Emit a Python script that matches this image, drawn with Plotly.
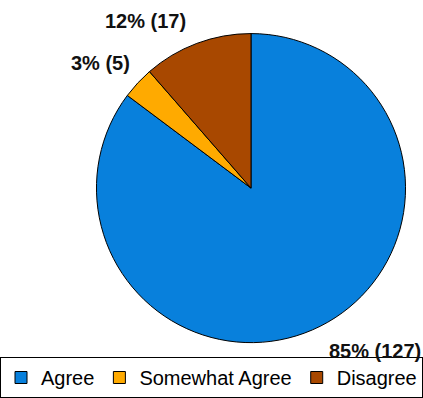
import plotly.graph_objects as go

categories = ["Agree", "Somewhat Agree", "Disagree"]
counts = [127, 5, 17]
percents = [85, 3, 12]
colors = ["#0880DC", "#FFAA00", "#A84800"]

W, H = 423, 398
# label anchor positions (pixels, from top-left)
label_pos = [(375, 355), (100, 64), (145, 21)]

fig = go.Figure()
fig.add_trace(go.Pie(
    labels=categories,
    values=counts,
    sort=False,
    direction="clockwise",
    rotation=0,
    marker=dict(colors=colors, line=dict(color="#000000", width=1)),
    textinfo="none",
    hoverinfo="label+value+percent",
    domain=dict(x=[94 / W, 408 / W], y=[1 - 347 / H, 1 - 34 / H]),
))

for cat, n, p, (px, py) in zip(categories, counts, percents, label_pos):
    fig.add_annotation(
        x=px / W, y=1 - py / H, xref="paper", yref="paper",
        text=f"<b>{p}% ({n})</b>", showarrow=False,
        font=dict(family="Liberation Sans, Arial", size=20, color="#111111"),
        xanchor="center", yanchor="middle",
    )

fig.update_layout(
    width=W, height=H,
    margin=dict(l=0, r=0, t=0, b=0),
    paper_bgcolor="white",
    plot_bgcolor="white",
    font=dict(family="Liberation Sans, Arial", size=20, color="#000000"),
    showlegend=True,
    legend=dict(
        orientation="h",
        x=8 / W, y=1 - 362 / H, xanchor="left", yanchor="top",
        bordercolor="#000000", borderwidth=1,
        font=dict(family="Liberation Sans, Arial", size=20, color="#000000"),
        itemwidth=30, tracegroupgap=0,
        bgcolor="white",
    ),
)

fig.write_html("out.html")
